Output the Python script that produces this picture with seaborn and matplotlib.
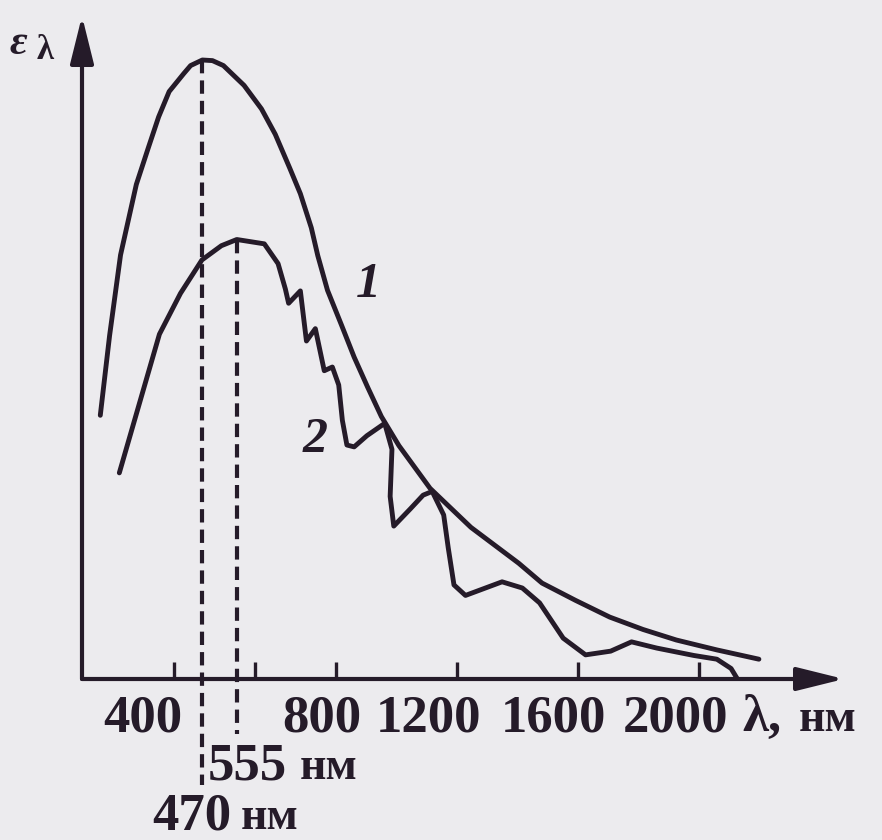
import numpy as np
import pandas as pd
import matplotlib
matplotlib.use("Agg")
import matplotlib.pyplot as plt
import seaborn as sns

# ---------------- data ----------------
# curve 1: blackbody spectrum, lambda in nm, epsilon in arbitrary units (peak = 100)
lam1 = [218, 241, 268, 307, 337, 362, 388, 424, 441, 470, 495, 522, 573, 616, 650, 686,
        712, 739, 755, 779, 818, 860, 905, 950, 1008, 1111, 1246, 1404, 1481, 1592,
        1705, 1815, 1925, 2059, 2198]
eps1 = [42.6, 55.5, 68.5, 79.9, 85.9, 90.8, 94.9, 97.8, 99.1, 100.0, 99.9, 99.1, 95.9,
        92.1, 88.0, 82.5, 78.4, 72.9, 68.4, 62.8, 57.2, 52.0, 47.1, 42.4, 37.7, 30.8,
        24.5, 18.7, 15.5, 12.7, 10.0, 8.0, 6.3, 4.7, 3.2]

# curve 2: solar spectrum at the Earth's surface
lam2 = [265, 364, 416, 469, 517, 555, 623, 657, 675, 683, 712, 727, 749, 771, 791,
        809, 821, 836, 860, 902, 961, 985, 979, 991, 1046, 1088, 1118, 1156, 1171,
        1190, 1228, 1283, 1349, 1416, 1473, 1551, 1625, 1708, 1777, 1860, 1983,
        2059, 2106, 2127]
eps2 = [33.3, 55.7, 62.3, 67.7, 70.0, 71.0, 70.3, 67.1, 63.0, 60.7, 62.7, 54.6, 56.6,
        49.8, 50.4, 47.5, 41.8, 37.8, 37.5, 39.3, 41.3, 37.1, 29.5, 24.7, 27.5, 29.7,
        30.3, 26.5, 21.2, 15.2, 13.5, 14.5, 15.7, 14.7, 12.3, 6.6, 3.9, 4.5, 6.0, 5.0,
        3.8, 3.2, 1.7, 0.0]

peak_lams = [470, 555]          # dashed lines (nm)
peak_eps = [100.0, 71.0]        # top of the dashed lines
dash_bottom = [-17.1, -8.9]     # dashed lines run below the axis
peak_labels = ["470", "555"]

ticks = [400, 600, 800, 1200, 1600, 2000]
tick_labels = ["400", "", "800", "1200", "1600", "2000"]
curve_names = ["1", "2"]
curve_label_pos = [(906, 63.7), (748, 38.6)]

# ---------------- style ----------------
INK = "#251b29"
PAPER = "#ecebee"
sns.set_theme(style="white")
plt.rcParams["font.family"] = ["Liberation Serif", "DejaVu Serif"]

W, H = 882, 840
fig = plt.figure(figsize=(W / 100, H / 100), dpi=100, facecolor=PAPER)
L, B, AW, AH = 82, 679, 762, 663
ax = fig.add_axes([L / W, 1 - B / H, AW / W, AH / H])
ax.set_facecolor(PAPER)


# the book's axis is drawn at 0.405 px/nm up to 800 nm and 0.3025 px/nm beyond
def fwd(l):
    l = np.asarray(l, dtype=float)
    return np.where(l <= 800, 92 + 0.405 * (l - 400), 254 + 0.3025 * (l - 800))


def inv(u):
    u = np.asarray(u, dtype=float)
    return np.where(u <= 254, 400 + (u - 92) / 0.405, 800 + (u - 254) / 0.3025)


ax.set_xscale("function", functions=(fwd, inv))

df1 = pd.DataFrame({"lam": lam1, "eps": eps1})
df2 = pd.DataFrame({"lam": lam2, "eps": eps2})
sns.lineplot(data=df1, x="lam", y="eps", ax=ax, sort=False, estimator=None,
             color=INK, lw=3.5, solid_capstyle="round", solid_joinstyle="round")
sns.lineplot(data=df2, x="lam", y="eps", ax=ax, sort=False, estimator=None,
             color=INK, lw=3.5, solid_capstyle="round", solid_joinstyle="round")

for lam, top, bot in zip(peak_lams, peak_eps, dash_bottom):
    ax.plot([lam, lam], [top, bot], color=INK, lw=3.0, ls=(0, (3.2, 1.7)),
            clip_on=False)

ax.set_xlim(float(inv(0)), float(inv(AW)))
ax.set_ylim(0, AH / 6.19)

for s in ax.spines.values():
    s.set_visible(False)
ax.set_yticks([])
ax.set_xticks(ticks, [""] * len(ticks))
ax.tick_params(axis="x", which="major", bottom=True, direction="in", length=12,
               width=2.4, color=INK, pad=0)
ax.set_xlabel("")
ax.set_ylabel("")

# axis arrows
arr = dict(arrowstyle="-|>,head_length=1.45,head_width=0.36", mutation_scale=20,
           lw=3, color=INK, shrinkA=0, shrinkB=0)
ax.annotate("", xy=(1, 0), xytext=(0, 0), xycoords="axes fraction", arrowprops=arr)
ax.annotate("", xy=(0, 1), xytext=(0, 0), xycoords="axes fraction", arrowprops=arr)

# tick labels (shifted left like in the book)
lab_dx = [-31, 0, -14, -28, -25, -23]
tf = dict(fontsize=38, fontweight="bold", color=INK)
for t, lab, dx in zip(ticks, tick_labels, lab_dx):
    if lab:
        ax.annotate(lab, xy=(t, 0), xycoords=("data", "axes fraction"),
                    xytext=(dx, -52), textcoords="offset pixels",
                    ha="center", va="baseline", **tf)

# λ, нм
ax.annotate("λ,", xy=(1, 0), xycoords="axes fraction", xytext=(-102, -52),
            textcoords="offset pixels", ha="left", va="baseline", **tf)
ax.annotate("нм", xy=(1, 0), xycoords="axes fraction", xytext=(-45, -52),
            textcoords="offset pixels", ha="left", va="baseline",
            fontsize=33, fontweight="bold", color=INK)

# 470 нм / 555 нм
offs = {"470": ((-50, -150), (38, -150)), "555": ((-29, -100), (63, -100))}
for lam, lab in zip(peak_lams, peak_labels):
    (dx1, dy1), (dx2, dy2) = offs[lab]
    ax.annotate(lab, xy=(lam, 0), xycoords=("data", "axes fraction"),
                xytext=(dx1, dy1), textcoords="offset pixels",
                ha="left", va="baseline", annotation_clip=False, **tf)
    ax.annotate("нм", xy=(lam, 0), xycoords=("data", "axes fraction"),
                xytext=(dx2, dy2), textcoords="offset pixels",
                ha="left", va="baseline", annotation_clip=False,
                fontsize=33, fontweight="bold", color=INK)

# curve numbers
for name, (lx, ly) in zip(curve_names, curve_label_pos):
    ax.text(lx, ly, name, fontsize=36, fontweight="bold", fontstyle="italic",
            color=INK, ha="center", va="center")

# y label ε_λ
fig.text(10 / W, 1 - 54 / H, "ε", fontsize=31, fontstyle="italic", fontweight="bold",
         color=INK, ha="left", va="baseline")
fig.text(37 / W, 1 - 59 / H, "λ", fontsize=25, fontweight="bold",
         color=INK, ha="left", va="baseline")

fig.savefig("out.png", dpi=100, facecolor=PAPER)
